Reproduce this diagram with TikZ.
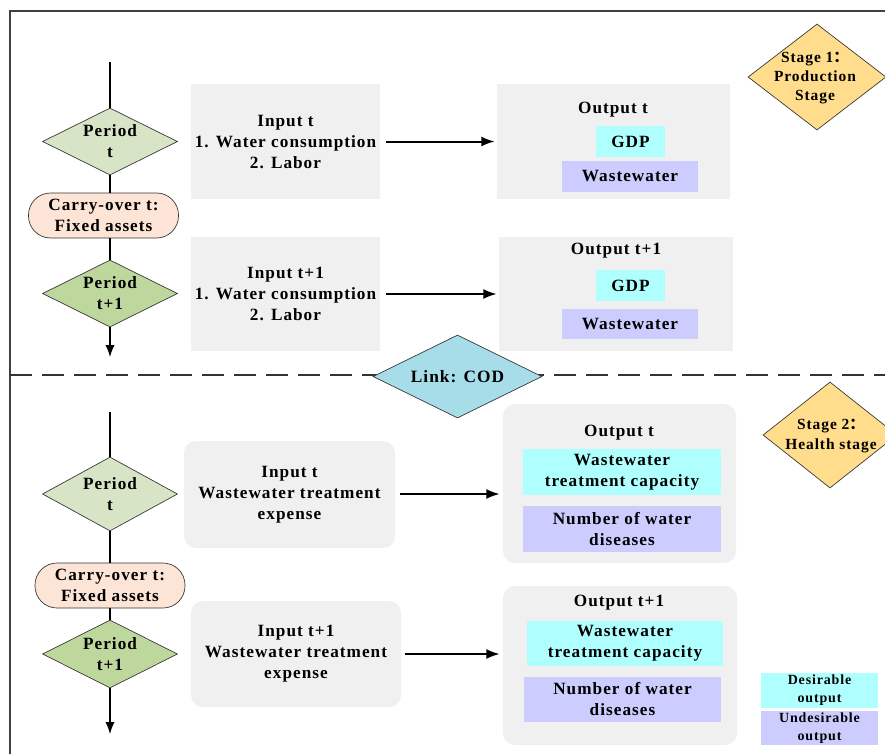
\documentclass[tikz,border=0pt]{standalone}
\usepackage{fontspec}
\setmainfont{Liberation Serif}[LetterSpace=6]
\newfontfamily\cjk{Noto Sans CJK SC}
\usetikzlibrary{shapes.geometric,arrows.meta}
\definecolor{boxgray}{HTML}{F0F0F0}
\definecolor{gone}{HTML}{D7E4C5}
\definecolor{gtwo}{HTML}{BDD79D}
\definecolor{peach}{HTML}{FCE4D6}
\definecolor{desc}{HTML}{B0FFFF}
\definecolor{undes}{HTML}{CCCCFF}
\definecolor{stagey}{HTML}{FFDD8C}
\definecolor{linkc}{HTML}{A6DDE8}
\begin{document}
\begin{tikzpicture}[x=0.75pt,y=-0.75pt,
  sz/.style 2 args={minimum width=#1*0.75pt, minimum height=#2*0.75pt, inner sep=0pt},
  dia/.style={diamond, draw=black!80, line width=0.5pt},
  gbox/.style={rectangle, fill=boxgray, draw=none},
  rbox/.style={rectangle, fill=boxgray, draw=none, rounded corners=12*0.75pt},
  cbox/.style={rectangle, fill=desc, draw=none},
  lbox/.style={rectangle, fill=undes, draw=none},
  carry/.style={rectangle, fill=peach, draw=black!80, line width=0.5pt, rounded corners=22*0.75pt},
  txt/.style={font=\fontsize{12.9}{15.75}\selectfont\bfseries, align=center, inner sep=0pt},
  stxt/.style={font=\fontsize{11.6}{14.5}\selectfont\bfseries, align=center, inner sep=0pt},
  ltxt/.style={font=\fontsize{10.5}{13.5}\selectfont\bfseries, align=center, inner sep=0pt},
  conn/.style={line width=0.9pt, black},
  arr/.style={line width=1.5pt, black, -{Latex[length=10pt,width=7.5pt]}},
  varr/.style={line width=1pt, black, -{Latex[length=9pt,width=7pt]}}
]
\useasboundingbox (0,0) rectangle (885,754);
% frame
\draw[black!75, line width=0.8pt] (10,754) -- (10,11) -- (885,11);
% dashed separator
\draw[black!80, line width=0.8pt, dash pattern=on 16.5pt off 7.5pt] (10,375) -- (885,375);

% ---------- Stage 1 ----------
\coordinate (top1) at (110,62);
\node[dia, fill=gone, sz={135}{67}] (p1) at (110,141.5) {};
\node[txt] (p1t) at (p1) {Period\\t};
\node[carry, sz={150}{45}] (co1) at (103.5,215.5) {};
\node[txt] (co1t) at (co1) {Carry-over t:\\Fixed assets};
\node[dia, fill=gtwo, sz={135}{67}] (p2) at (110,293.5) {};
\node[txt] (p2t) at (p2) {Period\\t+1};
\coordinate (end1) at (110,357);
\draw[conn] (top1) -- (p1.north);
\draw[conn] (p1.south) -- (p1.south |- co1.north);
\draw[conn] (p1.south |- co1.south) -- (p2.north);
\draw[varr] (p2.south) -- (end1);

\node[gbox, sz={189}{115}] (in1) at (285.5,141.5) {};
\node[txt] (in1t) at (in1) {Input t\\1. Water consumption\\2. Labor};
\node[gbox, sz={233}{115}] (out1) at (613.5,141.5) {};
\node[txt] (out1t) at (613,110) {Output t};
\node[cbox, sz={69}{31}] (gdp1) at (630.5,141.5) {};
\node[txt] (gdp1t) at (gdp1) {GDP};
\node[lbox, sz={136}{31}] (ww1) at (630,176) {};
\node[txt] (ww1t) at (ww1) {Wastewater};
\draw[arr, shorten <=6*0.75pt, shorten >=2*0.75pt] (in1.east |- in1t) -- (out1.west |- in1t);

\node[gbox, sz={189}{114}] (in2) at (285.5,294) {};
\node[txt] (in2t) at (in2) {Input t+1\\1. Water consumption\\2. Labor};
\node[gbox, sz={234}{114}] (out2) at (616,294) {};
\node[txt] (out2t) at (616,251) {Output t+1};
\node[cbox, sz={69}{31}] (gdp2) at (630.5,285.5) {};
\node[txt] (gdp2t) at (gdp2) {GDP};
\node[lbox, sz={136}{30}] (ww2) at (630,324) {};
\node[txt] (ww2t) at (ww2) {Wastewater};
\draw[arr, shorten <=6*0.75pt, shorten >=2*0.75pt] (in2.east |- in2t) -- (out2.west |- in2t);

\node[dia, fill=stagey, sz={138}{106}] (st1) at (817,77) {};
\node[stxt] (st1t) at (815,78) {Stage 1{\cjk ：}\\Production\\Stage};

% ---------- Link ----------
\node[dia, fill=linkc, sz={169}{83}] (link) at (457.5,376.5) {};
\node[txt, font=\fontsize{13}{16}\selectfont\bfseries] (linkt) at (link) {Link: COD};

% ---------- Stage 2 ----------
\node[dia, fill=stagey, sz={134}{106}] (st2) at (830,435) {};
\node[stxt] (st2t) at (831,436) {Stage 2{\cjk ：}\\Health stage};

\coordinate (top2) at (110,412);
\node[dia, fill=gone, sz={135}{74}] (p3) at (110,494) {};
\node[txt] (p3t) at (p3) {Period\\t};
\node[carry, sz={150}{45}] (co2) at (110,585.5) {};
\node[txt] (co2t) at (co2) {Carry-over t:\\Fixed assets};
\node[dia, fill=gtwo, sz={135}{68}] (p4) at (110,654) {};
\node[txt] (p4t) at (p4) {Period\\t+1};
\coordinate (end2) at (110,734);
\draw[conn] (top2) -- (p3.north);
\draw[conn] (p3.south) -- (co2.north);
\draw[conn] (co2.south) -- (p4.north);
\draw[varr] (p4.south) -- (end2);

\node[rbox, sz={211}{107}] (in3) at (289.5,494.5) {};
\node[txt] (in3t) at (in3) {Input t\\Wastewater treatment\\expense};
\node[rbox, sz={233}{159}] (out3) at (619.5,483.5) {};
\node[txt] (out3t) at (619,433) {Output t};
\node[cbox, sz={198}{46}] (cy3) at (622,472) {};
\node[txt] (cy3t) at (cy3) {Wastewater\\treatment capacity};
\node[lbox, sz={198}{46}] (lv3) at (622,529) {};
\node[txt] (lv3t) at (lv3) {Number of water\\diseases};
\draw[arr, shorten <=5*0.75pt, shorten >=3*0.75pt] (in3.east |- p3) -- (out3.west |- p3);

\node[rbox, sz={210}{106}] (in4) at (296,654) {};
\node[txt] (in4t) at (in4) {Input t+1\\Wastewater treatment\\expense};
\node[rbox, sz={234}{159}] (out4) at (620,665.5) {};
\node[txt] (out4t) at (619,603) {Output t+1};
\node[cbox, sz={196}{45}] (cy4) at (625,643.5) {};
\node[txt] (cy4t) at (cy4) {Wastewater\\treatment capacity};
\node[lbox, sz={197}{45}] (lv4) at (622.5,699.5) {};
\node[txt] (lv4t) at (lv4) {Number of water\\diseases};
\draw[arr, shorten <=4*0.75pt, shorten >=3*0.75pt] (in4.east |- p4) -- (out4.west |- p4);

% legend
\node[cbox, sz={117}{35}] (leg1) at (819.5,690.5) {};
\node[ltxt] (leg1t) at (leg1) {Desirable\\output};
\node[lbox, sz={117}{34}] (leg2) at (819.5,728) {};
\node[ltxt] (leg2t) at (leg2) {Undesirable\\output};
\end{tikzpicture}
\end{document}
